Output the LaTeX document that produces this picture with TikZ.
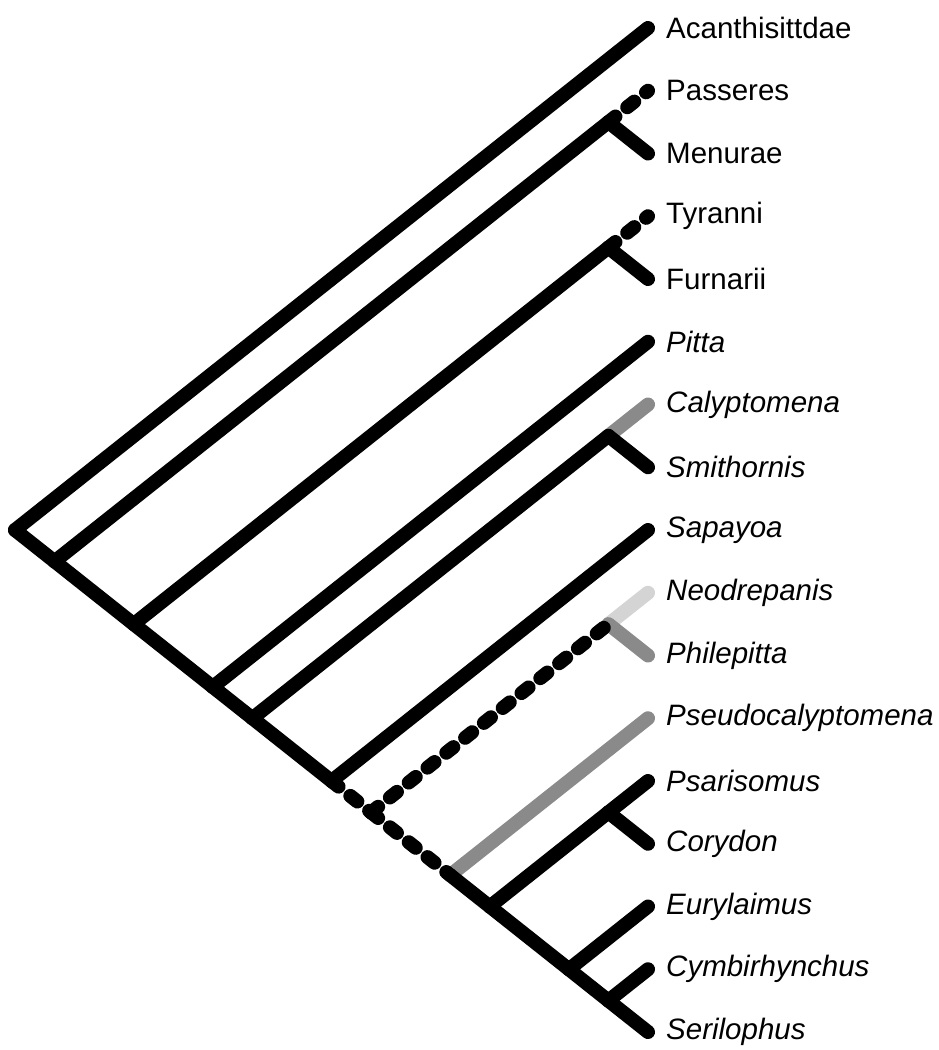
\documentclass[tikz,border=0pt]{standalone}
\usepackage{fontspec}
\setmainfont{Liberation Sans}
\begin{document}
\begin{tikzpicture}[x=1pt,y=-1pt,
  br/.style={line width=14pt,line cap=round,line join=round,black},
  brdash/.style={br,dash pattern=on 9pt off 15pt},
  brgray/.style={br,draw={rgb,255:red,138;green,138;blue,138}},
  brlight/.style={br,draw={rgb,255:red,212;green,212;blue,212}},
  lab/.style={anchor=west,inner sep=0pt,font=\fontsize{29.5}{32}\selectfont},
  ilab/.style={lab,font=\fontsize{29.5}{32}\selectfont\itshape}]
\useasboundingbox (0,0) rectangle (939,1050);
% tips
\foreach \i in {0,...,16}{
  \coordinate (t\i) at (648,{28+62.75*\i});
}
% labels
\node[lab]  (l0)  at (666,28)      {Acanthisittdae};
\node[lab]  (l1)  at (666,90.75)   {Passeres};
\node[lab]  (l2)  at (666,153.5)   {Menurae};
\node[lab]  (l3)  at (666,216.25)  {Tyranni};
\node[lab]  (l4)  at (666,279)     {Furnarii};
\node[ilab] (l5)  at (666,341.75)  {Pitta};
\node[ilab] (l6)  at (666,404.5)   {Calyptomena};
\node[ilab] (l7)  at (666,467.25)  {Smithornis};
\node[ilab] (l8)  at (666,530)     {Sapayoa};
\node[ilab] (l9)  at (666,592.75)  {Neodrepanis};
\node[ilab] (l10) at (666,655.5)   {Philepitta};
\node[ilab] (l11) at (666,718.25)  {Pseudocalyptomena};
\node[ilab] (l12) at (666,781)     {Psarisomus};
\node[ilab] (l13) at (666,843.75)  {Corydon};
\node[ilab] (l14) at (666,906.5)   {Eurylaimus};
\node[ilab] (l15) at (666,969.25)  {Cymbirhynchus};
\node[ilab] (l16) at (666,1032)    {Serilophus};
% internal nodes
\coordinate (root) at (15,530);
\coordinate (nA) at (54.6,561.375);
\coordinate (nPM) at (608.4,122.125);
\coordinate (nB) at (133.7,624.125);
\coordinate (nTF) at (608.4,247.625);
\coordinate (nC) at (212.8,686.875);
\coordinate (nD) at (252.4,718.25);
\coordinate (nCS) at (608.4,435.875);
\coordinate (nE) at (331.5,781);
\coordinate (nF) at (371.1,812.375);
\coordinate (nNP) at (608.4,624.125);
\coordinate (nG) at (450.2,875.125);
\coordinate (nH) at (489.8,906.5);
\coordinate (nPC) at (608.4,812.375);
\coordinate (nI) at (568.9,969.25);
\coordinate (nCY) at (608.4,1000.625);
% gray branches first
\draw[brgray]  (nCS) -- (t6);
\draw[brlight] (nNP) -- (t9);
\draw[brgray]  (nNP) -- (t10);
\draw[brgray]  (nG) -- (t11);
% black branches
\draw[br] (root) -- (t0);
\draw[br] (root) -- (nA);
\draw[br] (nA) -- (nPM);
\draw[brdash] (nPM) -- (t1);
\draw[br] (nPM) -- (t2);
\draw[br] (nA) -- (nB);
\draw[br] (nB) -- (nTF);
\draw[brdash] (nTF) -- (t3);
\draw[br] (nTF) -- (t4);
\draw[br] (nB) -- (nC);
\draw[br] (nC) -- (t5);
\draw[br] (nC) -- (nD);
\draw[br] (nD) -- (nCS);
\draw[br] (nCS) -- (t7);
\draw[br] (nD) -- (nE);
\draw[br] (nE) -- (t8);
\draw[brdash] (nE) -- (nF);
\draw[brdash] (nF) -- (nNP);
\draw[brdash] (nF) -- (nG);
\draw[br] (nG) -- (nH);
\draw[br] (nH) -- (nPC);
\draw[br] (nPC) -- (t12);
\draw[br] (nPC) -- (t13);
\draw[br] (nH) -- (nI);
\draw[br] (nI) -- (t14);
\draw[br] (nI) -- (nCY);
\draw[br] (nCY) -- (t15);
\draw[br] (nCY) -- (t16);
\end{tikzpicture}
\end{document}
